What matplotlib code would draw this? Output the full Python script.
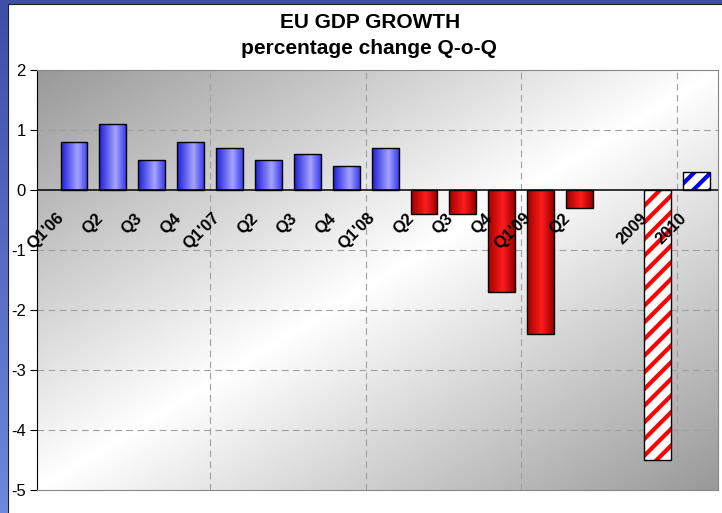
import numpy as np
import matplotlib.pyplot as plt
from matplotlib.colors import LinearSegmentedColormap

plt.rcParams['font.family'] = ['Liberation Sans', 'DejaVu Sans']
plt.rcParams['axes.unicode_minus'] = False

# quarterly growth, % change on previous quarter
quarters = ["Q1'06", "Q2", "Q3", "Q4", "Q1'07", "Q2", "Q3", "Q4",
            "Q1'08", "Q2", "Q3", "Q4", "Q1'09", "Q2"]
quarter_growth = [0.8, 1.1, 0.5, 0.8, 0.7, 0.5, 0.6, 0.4,
                  0.7, -0.4, -0.4, -1.7, -2.4, -0.3]

# annual forecasts, placed after one empty slot
years = ["2009", "2010"]
year_growth = [-4.5, 0.3]

labels = quarters + [""] + years
n_q = len(quarters)
year_pos = [n_q + 1 + i for i in range(len(years))]

blue_cmap = LinearSegmentedColormap.from_list(
    "bar_blue", [(0, "#1e1ed8"), (0.62, "#a4a4ff"), (1, "#3c3cee")])
red_cmap = LinearSegmentedColormap.from_list(
    "bar_red", [(0, "#a00000"), (0.55, "#ff1c1c"), (1, "#980000")])

fig = plt.figure(figsize=(7.22, 5.13), dpi=100)
fig.patch.set_facecolor("#3f4fa8")

# white panel with the blue frame on top and left
W, H = 722, 513
fig.patches.append(plt.Rectangle((8 / W, -0.01), 1.0, 1.01 - 4 / H,
                                 transform=fig.transFigure, facecolor="white",
                                 edgecolor="#202020", linewidth=0.8, zorder=-10))
strip = fig.add_axes([0, 0, 7.5 / W, 1 - 4 / H])
strip.imshow(np.linspace(0, 1, 64).reshape(-1, 1),
             cmap=LinearSegmentedColormap.from_list("frame", ["#3f4fa8", "#6c88da"]),
             aspect="auto", extent=(0, 1, 1, 0))
strip.axis("off")

ax = fig.add_axes([37 / W, 23 / H, 681 / W, 420 / H])
ax.patch.set_alpha(0)

# diagonal grey background, dark in the top-left and bottom-right corners
u, v = np.meshgrid(np.linspace(0, 1, 300), np.linspace(1, 0, 200))
shade = 1 - 0.4 * np.abs(u - v)
ax.imshow(shade, cmap="gray", vmin=0, vmax=1, extent=(0, 1, 0, 1),
          transform=ax.transAxes, aspect="auto", zorder=0, interpolation="bilinear")

# dashed grid
for y in [-4, -3, -2, -1, 1]:
    ax.axhline(y, color="#a0a0a0", lw=0.8, dashes=(6, 4), zorder=1)
for x in [3.5, 7.5, 11.5, 15.5]:
    ax.axvline(x, color="#a0a0a0", lw=0.8, dashes=(6, 4), zorder=1)

width = 0.69
grad = np.linspace(0, 1, 64).reshape(1, -1)
bars = ax.bar(range(n_q), quarter_growth, width=width, color="none",
              edgecolor="black", linewidth=1, zorder=4)
for b, val in zip(bars, quarter_growth):
    x0, y0 = b.get_x(), b.get_y()
    img = ax.imshow(grad, cmap=blue_cmap if val > 0 else red_cmap, aspect="auto",
                    extent=(x0, x0 + b.get_width(), y0, y0 + b.get_height()),
                    zorder=3, interpolation="bilinear")
    img.set_clip_path(b)

# forecasts: striped bars
plt.rcParams['hatch.linewidth'] = 3.0
for pos, val, col in zip(year_pos, year_growth, ["#ff0000", "#0000ff"]):
    ax.bar(pos, val, width=width, color="white", edgecolor=col, hatch="//",
           linewidth=0, zorder=3)
    ax.bar(pos, val, width=width, color="none", edgecolor="black",
           linewidth=1, zorder=4)

ax.axhline(0, color="black", lw=1.1, zorder=5)

for i, lab in enumerate(labels):
    if lab:
        ax.text(i - 0.45, -0.34, lab, rotation=45, rotation_mode="anchor",
                ha="right", va="top", fontsize=12, fontweight="bold", zorder=6)

ax.set_xlim(-0.95, 16.56)
ax.set_ylim(-5, 2)
ax.set_xticks([])
ax.set_yticks(range(-5, 3))
ax.tick_params(axis="y", direction="out", length=5, labelsize=12, pad=3)
for side in ["top", "right", "bottom"]:
    ax.spines[side].set_color("#888888")
ax.spines["left"].set_color("black")

fig.text(370 / W, 1 - 23 / H, "EU GDP GROWTH", ha="center", va="center",
         fontsize=15, fontweight="bold")
fig.text(369 / W, 1 - 49 / H, "percentage change Q-o-Q", ha="center", va="center",
         fontsize=15, fontweight="bold")

fig.savefig("out.png", dpi=100, facecolor=fig.get_facecolor())
